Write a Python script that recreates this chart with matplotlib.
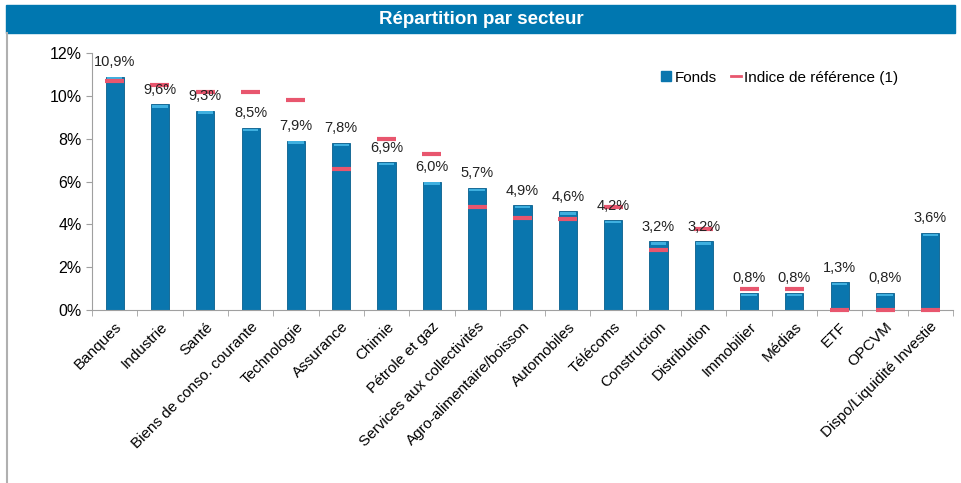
import matplotlib
matplotlib.use("Agg")
import matplotlib.pyplot as plt
from matplotlib.lines import Line2D
from matplotlib.patches import Rectangle
import numpy as np

plt.rcParams["font.family"] = ["Liberation Sans", "DejaVu Sans"]

secteurs = [
    "Banques", "Industrie", "Santé", "Biens de conso. courante", "Technologie",
    "Assurance", "Chimie", "Pétrole et gaz", "Services aux collectivités",
    "Agro-alimentaire/boisson", "Automobiles", "Télécoms", "Construction",
    "Distribution", "Immobilier", "Médias", "ETF", "OPCVM",
    "Dispo/Liquidité Investie",
]
fonds = [10.9, 9.6, 9.3, 8.5, 7.9, 7.8, 6.9, 6.0, 5.7, 4.9, 4.6, 4.2, 3.2,
         3.2, 0.8, 0.8, 1.3, 0.8, 3.6]
indice = [10.7, 10.5, 10.2, 10.2, 9.8, 6.6, 8.0, 7.3, 4.8, 4.3, 4.25, 4.8,
          2.8, 3.8, 1.0, 1.0, 0.0, 0.0, 0.0]

BLUE = "#0A76AE"
RED = "#E8566E"

fig = plt.figure(figsize=(9.62, 4.83), dpi=100)

# bandeau titre
fig.add_artist(Rectangle((6 / 962, 1 - 33 / 483), 949 / 962, 28 / 483,
                         transform=fig.transFigure, color="#0077B0", zorder=0))
fig.text(0.5, 1 - 19 / 483, "Répartition par secteur", ha="center", va="center",
         color="white", fontsize=13.5, fontweight="bold")
fig.add_artist(Line2D([7 / 962, 7 / 962], [0, 1 - 33 / 483],
                      transform=fig.transFigure, color="#B0B0B0", lw=1.5))

ax = fig.add_axes([92 / 962, 1 - 310 / 483, 861 / 962, 257 / 483])
x = np.arange(len(secteurs))

ax.bar(x, fonds, width=0.4, color=BLUE, edgecolor="#075E8C", linewidth=0.6,
       zorder=2, label="Fonds")
ax.bar(x, [0.12] * len(x), bottom=np.array(fonds) - 0.15, width=0.34,
       color="#3FB0E0", linewidth=0, zorder=3)
ax.hlines(indice, x - 0.21, x + 0.21, color=RED, lw=3, zorder=4, clip_on=False)

for xi, v in zip(x, fonds):
    ax.text(xi, v + 0.35, f"{v:.1f}%".replace(".", ","), ha="center",
            va="bottom", fontsize=10.5, color="#222222", zorder=5)

ax.set_xlim(-0.5, len(secteurs) - 0.5)
ax.set_ylim(0, 12)
ax.set_yticks(np.arange(0, 13, 2))
ax.set_yticklabels([f"{t}%" for t in range(0, 13, 2)], fontsize=11.5)
ax.set_xticks(x)
ax.set_xticklabels(secteurs, rotation=45, ha="right", rotation_mode="anchor",
                   fontsize=11)
ax.tick_params(axis="x", length=0, pad=7)
ax.set_xticks(np.arange(-0.5, len(secteurs), 1), minor=True)
ax.tick_params(axis="x", which="minor", length=4, color="#A0A0A0")
ax.tick_params(axis="y", length=4, color="#A0A0A0")

for side in ["top", "right"]:
    ax.spines[side].set_visible(False)
for side in ["left", "bottom"]:
    ax.spines[side].set_color("#A0A0A0")

handles = [
    Line2D([], [], marker="s", color="none", markerfacecolor=BLUE,
           markeredgecolor=BLUE, markersize=7),
    Line2D([], [], color=RED, lw=2),
]
ax.legend(handles, ["Fonds", "Indice de référence (1)"], loc="upper left",
          bbox_to_anchor=(0.645, 0.985), ncol=2, frameon=False, fontsize=11,
          handlelength=0.7, handletextpad=0.2, columnspacing=0.9)

fig.savefig("out.png", dpi=100)
